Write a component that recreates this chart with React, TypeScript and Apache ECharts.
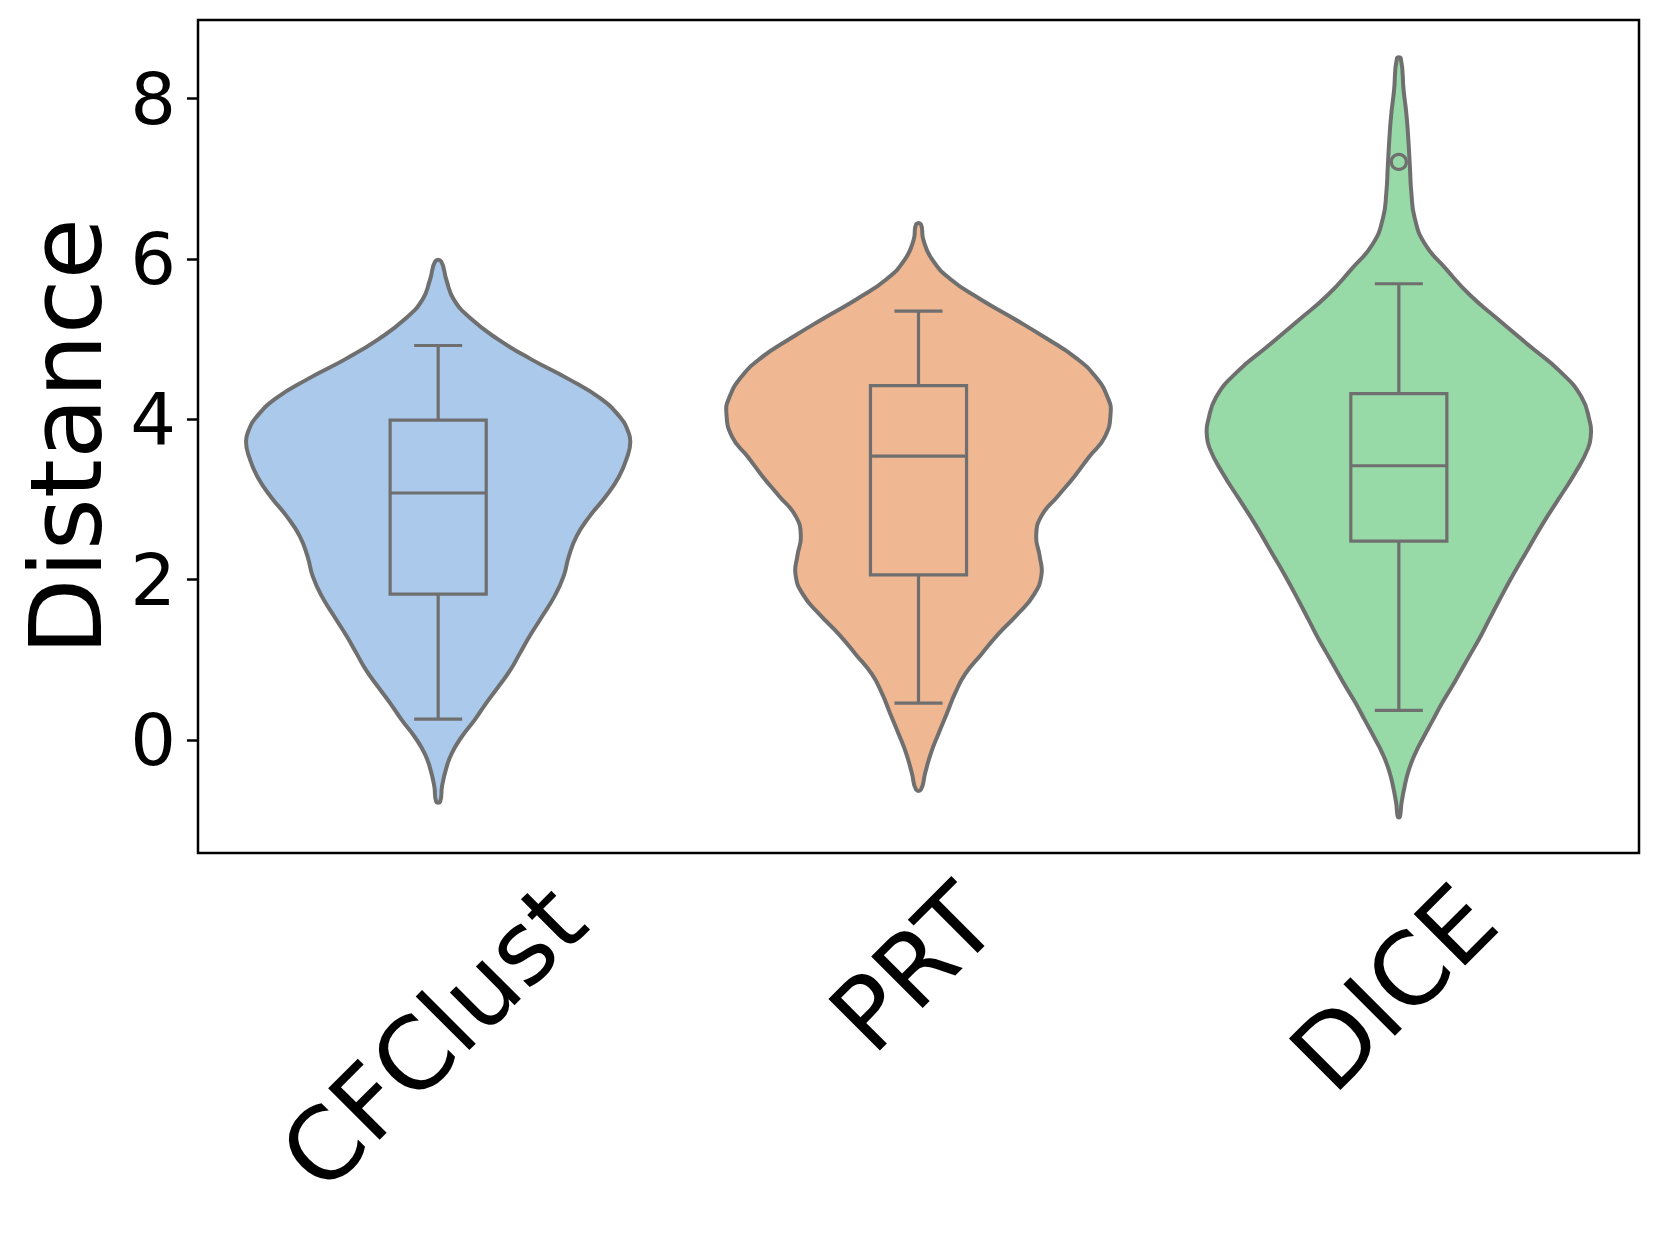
import React, { useEffect, useRef } from 'react';
import * as echarts from 'echarts';

const categories = ['CFClust', 'PRT', 'DICE'];
const violinColors = ['#abc9ea', '#efb792', '#98daa7'];
const yTicks = [0, 2, 4, 6, 8];
const Y_MIN = -1.41;
const Y_MAX = 8.98;

// violin outlines: y level and half width (in category-band units)
const cfclustY = [-0.77, -0.58, -0.37, -0.17, 0.04, 0.25, 0.46, 0.67, 0.87, 1.08, 1.29, 1.5, 1.8, 2.04, 2.29, 2.54, 2.78, 3.03, 3.28, 3.52, 3.72, 3.87, 4.01, 4.26, 4.51, 4.75, 5.0, 5.25, 5.49, 5.74, 5.97];
const cfclustHalfWidth = [0.004, 0.008, 0.016, 0.028, 0.049, 0.076, 0.1, 0.126, 0.15, 0.17, 0.19, 0.212, 0.243, 0.261, 0.272, 0.288, 0.314, 0.348, 0.376, 0.393, 0.4, 0.394, 0.381, 0.338, 0.269, 0.193, 0.124, 0.069, 0.033, 0.017, 0.006];

const prtY = [-0.62, -0.41, -0.16, 0.085, 0.33, 0.58, 0.82, 1.07, 1.32, 1.56, 1.81, 2.06, 2.3, 2.55, 2.795, 3.04, 3.29, 3.53, 3.78, 4.08, 4.27, 4.52, 4.76, 5.01, 5.26, 5.5, 5.75, 5.996, 6.24, 6.43];
const prtHalfWidth = [0.005, 0.014, 0.026, 0.042, 0.059, 0.076, 0.097, 0.131, 0.166, 0.205, 0.24, 0.256, 0.252, 0.245, 0.256, 0.29, 0.325, 0.355, 0.388, 0.4, 0.394, 0.37, 0.329, 0.266, 0.197, 0.128, 0.066, 0.028, 0.01, 0.005];

const diceY = [-0.96, -0.79, -0.58, -0.37, -0.17, 0.04, 0.25, 0.46, 0.67, 0.87, 1.08, 1.29, 1.5, 1.73, 2.05, 2.36, 2.68, 3.0, 3.32, 3.64, 3.83, 3.96, 4.28, 4.6, 4.91, 5.23, 5.55, 5.87, 6.19, 6.51, 6.83, 7.15, 7.47, 7.79, 8.1, 8.5];
const diceHalfWidth = [0.002, 0.0055, 0.012, 0.021, 0.034, 0.052, 0.071, 0.09, 0.111, 0.13, 0.15, 0.17, 0.188, 0.208, 0.237, 0.267, 0.298, 0.332, 0.366, 0.394, 0.4, 0.398, 0.38, 0.335, 0.273, 0.21, 0.148, 0.099, 0.054, 0.033, 0.026, 0.023, 0.02, 0.016, 0.01, 0.004];

// box plot statistics
const whiskerLow = [0.26, 0.46, 0.37];
const q1 = [1.82, 2.06, 2.48];
const medians = [3.08, 3.54, 3.42];
const q3 = [3.99, 4.42, 4.32];
const whiskerHigh = [4.92, 5.35, 5.69];
const outliers = [[], [], [7.21]];

const violinYs = [cfclustY, prtY, diceY];
const violinWs = [cfclustHalfWidth, prtHalfWidth, diceHalfWidth];

const EDGE = '#6f6f6f';
const FONT = '"DejaVu Sans", sans-serif';

function measure(text: string, size: number): number {
  const c = document.createElement('canvas').getContext('2d');
  if (!c) return text.length * size * 0.6;
  c.font = `${size}px "DejaVu Sans"`;
  return c.measureText(text).width;
}

export default function App() {
  const ref = useRef<HTMLDivElement>(null);
  useEffect(() => {
    if (!ref.current) return;
    const chart = echarts.init(ref.current, null, { renderer: 'svg' });
    const labelWidths = categories.map((c) => measure(c, 100));

    const renderItem = (params: any, api: any) => {
      const i = api.value(0);
      const c0 = api.coord([i, 0]);
      const band = api.coord([1, 0])[0] - api.coord([0, 0])[0];
      const cx = c0[0];
      const ys = violinYs[i];
      const ws = violinWs[i];
      const right = ys.map((y, k) => [cx + ws[k] * band, api.coord([i, y])[1]]);
      const left = ys.map((y, k) => [cx - ws[k] * band, api.coord([i, y])[1]]).reverse();
      const pts = right.concat(left);
      const py = (v: number) => api.coord([i, v])[1];
      const boxHalf = 0.1 * band;
      const capHalf = 0.05 * band;
      const axisY = py(Y_MIN);
      const W = labelWidths[i];
      const lw = 3.2;
      const children: any[] = [
        {
          type: 'polygon',
          shape: { points: pts, smooth: 0.5 },
          style: { fill: violinColors[i], stroke: EDGE, lineWidth: 4, lineJoin: 'round' },
        },
        {
          type: 'line',
          shape: { x1: cx, y1: py(q3[i]), x2: cx, y2: py(whiskerHigh[i]) },
          style: { stroke: EDGE, lineWidth: lw },
        },
        {
          type: 'line',
          shape: { x1: cx, y1: py(q1[i]), x2: cx, y2: py(whiskerLow[i]) },
          style: { stroke: EDGE, lineWidth: lw },
        },
        {
          type: 'line',
          shape: { x1: cx - capHalf, y1: py(whiskerHigh[i]), x2: cx + capHalf, y2: py(whiskerHigh[i]) },
          style: { stroke: EDGE, lineWidth: lw },
        },
        {
          type: 'line',
          shape: { x1: cx - capHalf, y1: py(whiskerLow[i]), x2: cx + capHalf, y2: py(whiskerLow[i]) },
          style: { stroke: EDGE, lineWidth: lw },
        },
        {
          type: 'rect',
          shape: { x: cx - boxHalf, y: py(q3[i]), width: 2 * boxHalf, height: py(q1[i]) - py(q3[i]) },
          style: { fill: violinColors[i], stroke: EDGE, lineWidth: lw },
        },
        {
          type: 'line',
          shape: { x1: cx - boxHalf, y1: py(medians[i]), x2: cx + boxHalf, y2: py(medians[i]) },
          style: { stroke: EDGE, lineWidth: lw },
        },
        ...outliers[i].map((o) => ({
          type: 'circle',
          shape: { cx, cy: py(o), r: 7.5 },
          style: { fill: 'none', stroke: EDGE, lineWidth: lw },
        })),
        {
          type: 'text',
          x: cx - 5,
          y: axisY + 22 + (W + 100) / (2 * Math.SQRT2) - 7,
          rotation: Math.PI / 4,
          style: {
            text: categories[i],
            fontSize: 100,
            fontFamily: FONT,
            fill: '#000',
            align: 'center',
            verticalAlign: 'middle',
            textAlign: 'center',
            textVerticalAlign: 'middle',
          },
        },
      ];
      return { type: 'group', children };
    };

    chart.setOption({
      animation: false,
      backgroundColor: '#fff',
      grid: {
        left: 198,
        top: 20,
        right: 21,
        bottom: 387,
        show: true,
        borderColor: '#000',
        borderWidth: 2.5,
        backgroundColor: 'transparent',
      },
      xAxis: {
        type: 'category',
        data: categories,
        axisLine: { show: false },
        axisTick: { show: true, alignWithLabel: true, length: 11, lineStyle: { color: '#000', width: 2.5 } },
        axisLabel: { show: false },
        splitLine: { show: false },
      },
      yAxis: {
        type: 'value',
        min: Y_MIN,
        max: Y_MAX,
        name: 'Distance',
        nameLocation: 'middle',
        nameGap: 82,
        nameTextStyle: { fontSize: 100, fontFamily: FONT, color: '#000' },
        axisLine: { show: false },
        axisTick: { show: true, customValues: yTicks, length: 11, lineStyle: { color: '#000', width: 2.5 } },
        axisLabel: { customValues: yTicks, fontSize: 72, fontFamily: FONT, color: '#000', margin: 22 },
        splitLine: { show: false },
      },
      series: [
        {
          type: 'custom',
          renderItem,
          clip: false,
          encode: { x: 0, y: 1 },
          data: categories.map((_, i) => [i, medians[i]]),
        },
      ],
    });
    return () => chart.dispose();
  }, []);
  return (
    <div
      ref={ref}
      style={{ position: 'fixed', left: 0, top: 0, width: 1660, height: 1240 }}
    />
  );
}
